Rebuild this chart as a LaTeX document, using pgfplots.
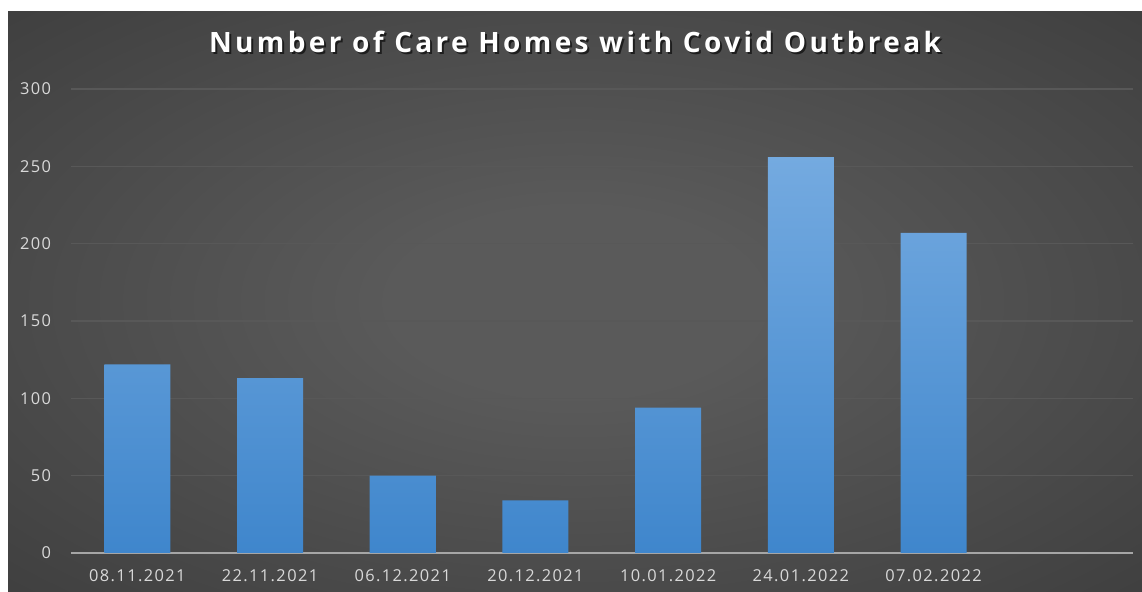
\documentclass[border=0pt]{standalone}
\usepackage{fontspec}
\setmainfont{Open Sans}
\newfontfamily\titlefont[LetterSpace=12]{Open Sans}
\newfontfamily\tickfont[LetterSpace=8.5]{Open Sans}
\usepackage{pgfplots}
\pgfplotsset{compat=1.18}
\definecolor{bgin}{HTML}{5A5A5A}
\definecolor{bgout}{HTML}{262626}
\definecolor{bartop}{HTML}{74AAE0}
\definecolor{barbot}{HTML}{3F86CC}
\definecolor{gridc}{HTML}{585858}
\definecolor{axisc}{HTML}{A6A6A6}
\definecolor{tickc}{HTML}{D9D9D9}
\pgfdeclareradialshading{bgshade}{\pgfpoint{0bp}{0bp}}{color(0bp)=(bgin); color(8bp)=(bgin); color(62bp)=(bgout); color(72bp)=(bgout)}
\begin{document}
\begin{tikzpicture}[x=0.5pt,y=0.5pt]
\useasboundingbox (0,0) rectangle (1142,592);
\fill[white] (0,0) rectangle (1142,592);
\shade[shading=bgshade] (8,0) rectangle (1142,580);
\begin{axis}[
  at={(35.5pt,19.5pt)}, anchor=south west,
  scale only axis, width=530.8pt, height=232pt,
  xmin=-0.5, xmax=7.5, ymin=0, ymax=300,
  ybar, bar width=33pt,
  xtick={0,...,7},
  xticklabels={08.11.2021,22.11.2021,06.12.2021,20.12.2021,10.01.2022,24.01.2022,07.02.2022,{}},
  ytick={0,50,...,300},
  axis x line=bottom, axis y line=left,
  x axis line style={axisc, line width=0.8pt, -},
  y axis line style={draw=none},
  major tick length=0pt,
  ymajorgrids, grid style={gridc, line width=0.6pt},
  /pgf/number format/assume math mode=true,
  ticklabel style={tickc, font=\tickfont\fontsize{8.2}{9}\selectfont},
  yticklabel style={anchor=east, xshift=-6.5pt},
  xticklabel style={anchor=north, yshift=-5pt},
]
\addplot[draw=none, top color=bartop, bottom color=barbot] coordinates {(0,122) (1,113) (2,50) (3,34) (4,94) (5,256) (6,207)};
\end{axis}
\node[font=\titlefont\bfseries\fontsize{14}{16}\selectfont, black, opacity=0.6] at (577,548) {Number of Care Homes with Covid Outbreak};
\node[font=\titlefont\bfseries\fontsize{14}{16}\selectfont, white] at (575,550) {Number of Care Homes with Covid Outbreak};
\end{tikzpicture}
\end{document}
